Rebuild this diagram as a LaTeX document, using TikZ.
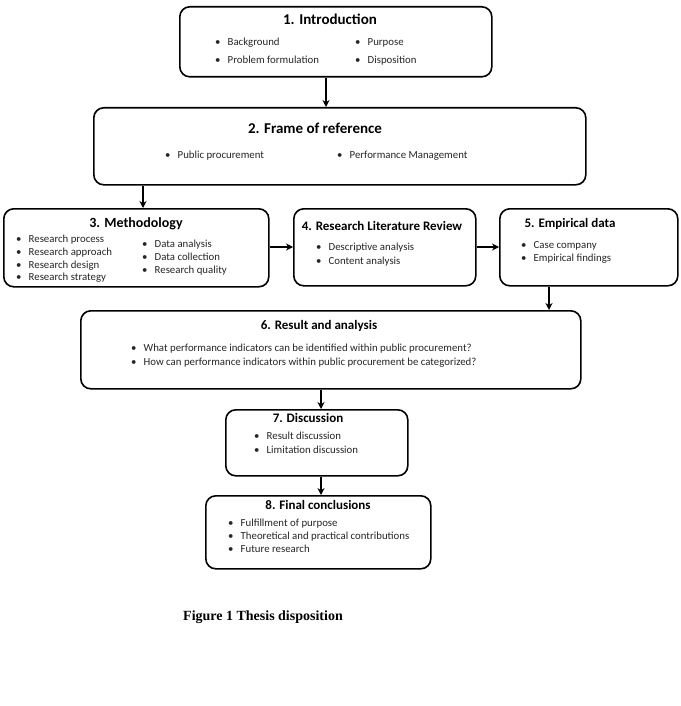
\documentclass[tikz,border=0pt]{standalone}
\usepackage{fontspec}
\setmainfont{Carlito}
\newfontfamily\capfont{Liberation Serif}
\usetikzlibrary{arrows.meta}
\tikzset{
  box/.style={draw, line width=1.6pt, rounded corners=10pt, fill=white, anchor=north west, inner sep=0},
  ttl/.style={font=\fontsize{13}{15}\selectfont\bfseries, inner sep=0},
  bigttl/.style={font=\fontsize{15}{17}\selectfont\bfseries, inner sep=0},
  lst/.style={align=left, anchor=north west, inner sep=0, text=black!85},
  arr/.style={line width=1.4pt, -{Stealth[length=7pt,width=7pt]}}
}
\newcommand\bu{\makebox[12.5pt][l]{•}}
\newcommand\fs[1]{\fontsize{10.8}{#1}\selectfont}
\begin{document}
\begin{tikzpicture}[x=1pt,y=-1pt]
\path[use as bounding box] (0,0) rectangle (680,706);
% boxes
\node[box, minimum width=312pt, minimum height=70pt] (b1) at (179,6) {};
\node[box, minimum width=492pt, minimum height=77pt] (b2) at (93,107) {};
\node[box, minimum width=265pt, minimum height=78pt] (b3) at (3,208) {};
\node[box, minimum width=182pt, minimum height=77pt] (b4) at (293,208) {};
\node[box, minimum width=178pt, minimum height=77pt] (b5) at (499,208) {};
\node[box, minimum width=500pt, minimum height=78pt] (b6) at (80,310) {};
\node[box, minimum width=182pt, minimum height=66pt] (b7) at (225,409) {};
\node[box, minimum width=225pt, minimum height=73pt] (b8) at (205,495) {};
% titles
\node[bigttl] (t1) at (330,19) {1. Introduction};
\node[bigttl] (t2) at (315,128) {2. Frame of reference};
\node[ttl, font=\fontsize{14}{16}\selectfont\bfseries] (t3) at (136,224) {3. Methodology};
\node[ttl] (t4) at (382,226) {4. Research Literature Review};
\node[ttl] (t5) at (570,224) {5. Empirical data};
\node[ttl] (t6) at (319,326) {6. Result and analysis};
\node[ttl] (t7) at (308,418) {7. Discussion};
\node[ttl] (t8) at (318,505) {8. Final conclusions};
% lists
\node[lst, font=\fs{18}] (l1a) at (215,38) {\bu Background\\ \bu Problem formulation};
\node[lst, font=\fs{18}] (l1b) at (355,38) {\bu Purpose\\ \bu Disposition};
\node[lst, font=\fs{13}] (l2a) at (165,151) {\bu Public procurement};
\node[lst, font=\fs{13}] (l2b) at (337,151) {\bu Performance Management};
\node[lst, font=\fs{12.7}] (l3a) at (16,235) {\bu Research process\\ \bu Research approach\\ \bu Research design\\ \bu Research strategy};
\node[lst, font=\fs{13}] (l3b) at (142,240) {\bu Data analysis\\ \bu Data collection\\ \bu Research quality};
\node[lst, font=\fs{14}] (l4) at (316,243) {\bu Descriptive analysis\\ \bu Content analysis};
\node[lst, font=\fs{13}] (l5) at (521,241) {\bu Case company\\ \bu Empirical findings};
\node[lst, font=\fs{14}] (l6) at (131,344) {\bu What performance indicators can be identified within public procurement?\\ \bu How can performance indicators within public procurement be categorized?};
\node[lst, font=\fs{14}] (l7) at (254,432) {\bu Result discussion\\ \bu Limitation discussion};
\node[lst, font=\fs{13}] (l8) at (228,519) {\bu Fulfillment of purpose\\ \bu Theoretical and practical contributions\\ \bu Future research};
% caption
\node[font=\capfont\bfseries\fontsize{14}{16}\selectfont, inner sep=0] (cap) at (263,617) {Figure 1 Thesis disposition};
% connectors
\coordinate (c12) at (326,0);
\coordinate (c23) at (143,0);
\coordinate (c34) at (0,247);
\coordinate (c56) at (549,0);
\coordinate (c67) at (321,0);
\draw[arr] (b1.south -| c12) -- (b2.north -| c12);
\draw[arr] (b2.south -| c23) -- (b3.north -| c23);
\draw[arr] (b3.east |- c34) -- (b4.west |- c34);
\draw[arr] (b4.east |- c34) -- (b5.west |- c34);
\draw[arr] (b5.south -| c56) -- (b6.north -| c56);
\draw[arr] (b6.south -| c67) -- (b7.north -| c67);
\draw[arr] (b7.south -| c67) -- (b8.north -| c67);
\end{tikzpicture}
\end{document}
